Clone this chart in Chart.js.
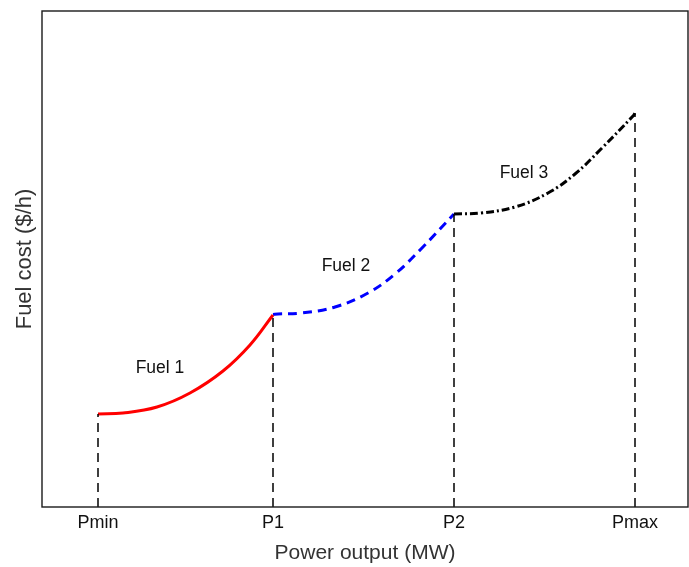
<!DOCTYPE html>
<html>
<head>
<meta charset="utf-8">
<script src="https://cdn.jsdelivr.net/npm/chart.js@4.4.1/dist/chart.umd.min.js"></script>
<style>
  html, body { margin: 0; padding: 0; background: #fff; }
  #wrap { width: 689px; height: 567px; }
</style>
</head>
<body>
<div id="wrap"><canvas id="c" width="689" height="567"></canvas></div>
<script>
// ---- data ----
const tickLabels = ['Pmin', 'P1', 'P2', 'Pmax'];
const breakpoints = [56, 231, 412, 593];        // power output at Pmin, P1, P2, Pmax
const breakpointCost = [93, 192, 293, 394];     // fuel cost at each breakpoint

const fuel1X = [56, 81, 115, 148, 181, 208, 231];
const fuel1Y = [93, 94, 100, 114, 136, 162, 192];

const fuel2X = [231, 236, 259, 293, 326, 353, 379, 412];
const fuel2Y = [192.5, 193, 194, 200, 214, 233, 258, 293];

const fuel3X = [412, 439, 473, 506, 533, 559, 591, 593];
const fuel3Y = [293, 294, 300, 314, 333, 358, 391, 394];

const fuelNames = ['Fuel 1', 'Fuel 2', 'Fuel 3'];
const fuelLabelX = [118, 304, 482];
const fuelLabelY = [139, 241, 334];

const xRange = [0, 646];
const yRange = [0, 496];

// ---- build datasets ----
const zip = (xs, ys) => xs.map((x, i) => ({ x: x, y: ys[i] }));
const curveBase = { pointRadius: 0, fill: false, tension: 0.4, borderWidth: 3, borderCapStyle: 'butt' };

const datasets = [];
breakpoints.forEach((bp, i) => {
  datasets.push({
    data: [{ x: bp, y: yRange[0] }, { x: bp, y: breakpointCost[i] }],
    borderColor: '#000', borderWidth: 1.5, borderDash: [9, 6], pointRadius: 0, fill: false
  });
});
datasets.push(Object.assign({}, curveBase, { data: zip(fuel1X, fuel1Y), borderColor: '#ff0000' }));
datasets.push(Object.assign({}, curveBase, { data: zip(fuel2X, fuel2Y), borderColor: '#0000ff', borderDash: [9, 6] }));
datasets.push(Object.assign({}, curveBase, { data: zip(fuel3X, fuel3Y), borderColor: '#000000', borderDash: [8, 3, 2, 3] }));

const FONT = '"Liberation Sans", Arial, sans-serif';

const frame = {
  id: 'frame',
  afterDraw(chart) {
    const { ctx, chartArea: a, scales } = chart;
    ctx.save();
    ctx.strokeStyle = '#1a1a1a';
    ctx.lineWidth = 1.4;
    ctx.strokeRect(a.left, a.top, a.right - a.left, a.bottom - a.top);
    ctx.fillStyle = '#111';
    ctx.font = '17.5px ' + FONT;
    ctx.textAlign = 'center';
    ctx.textBaseline = 'middle';
    fuelNames.forEach((n, i) => {
      ctx.fillText(n, scales.x.getPixelForValue(fuelLabelX[i]), scales.y.getPixelForValue(fuelLabelY[i]));
    });
    ctx.restore();
  }
};

new Chart(document.getElementById('c'), {
  type: 'line',
  data: { datasets: datasets },
  options: {
    responsive: false,
    animation: false,
    events: [],
    layout: { padding: { top: 11, right: 1, left: 0, bottom: 0 } },
    plugins: { legend: { display: false }, tooltip: { enabled: false } },
    scales: {
      x: {
        type: 'linear', min: xRange[0], max: xRange[1],
        grid: { display: false, drawTicks: false },
        border: { display: false },
        afterBuildTicks: (s) => { s.ticks = breakpoints.map(v => ({ value: v })); },
        afterFit: (s) => { s.height = 60; },
        ticks: {
          autoSkip: false, maxRotation: 0, padding: 5, color: '#111',
          font: { family: FONT, size: 18 },
          callback: (v, i) => tickLabels[i]
        },
        title: {
          display: true, text: 'Power output (MW)', color: '#333',
          font: { family: FONT, size: 21 },
          padding: { top: 0, bottom: 1.5 }
        }
      },
      y: {
        type: 'linear', min: yRange[0], max: yRange[1],
        grid: { display: false, drawTicks: false },
        border: { display: false },
        ticks: { display: false },
        afterFit: (s) => { s.width = 42; },
        title: {
          display: true, text: 'Fuel cost ($/h)', color: '#333',
          font: { family: FONT, size: 22 },
          padding: { top: 12, bottom: 0 }
        }
      }
    }
  },
  plugins: [frame]
});
</script>
</body>
</html>
